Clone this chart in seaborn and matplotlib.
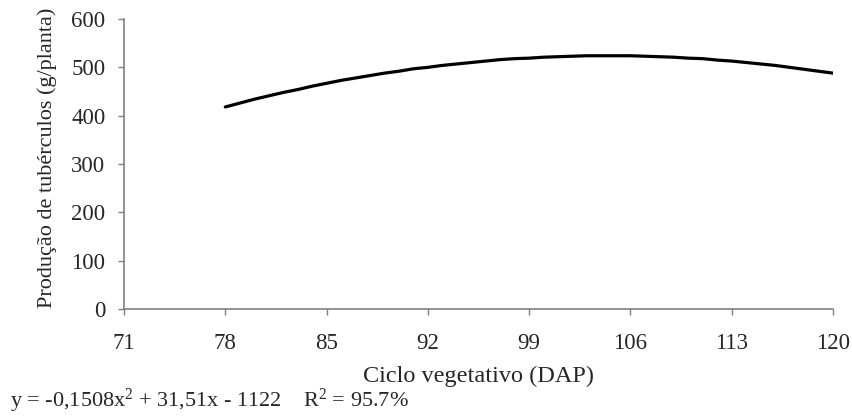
import pandas as pd
import matplotlib.pyplot as plt
import seaborn as sns

# Dados (produção por dia após o plantio)
dap = list(range(78, 121))
producao = [418, 426, 434, 441, 448, 454, 461, 467, 473, 478, 483, 488, 492, 497,
            500, 504, 507, 510, 513, 516, 518, 519, 521, 522, 523, 524, 524, 524,
            524, 523, 522, 521, 519, 518, 515, 513, 510, 507, 504, 500, 496, 492, 488]
xticks = [71, 78, 85, 92, 99, 106, 113, 120]
yticks = [0, 100, 200, 300, 400, 500, 600]

df = pd.DataFrame({"DAP": dap, "Produção": producao})

sns.set_style("ticks")
plt.rcParams["font.family"] = ["Liberation Serif", "DejaVu Serif"]
plt.rcParams["mathtext.fontset"] = "custom"
plt.rcParams["mathtext.rm"] = "Liberation Serif"
plt.rcParams["mathtext.it"] = "Liberation Serif:italic"

fig = plt.figure(figsize=(8.53, 4.16), dpi=100)
ax = fig.add_axes([0.1454, 0.2572, 0.8311, 0.6971])
sns.lineplot(data=df, x="DAP", y="Produção", color="black", linewidth=2.3, ax=ax)

ax.set_xlim(71, 120)
ax.set_ylim(0, 600)
ax.set_xticks(xticks)
ax.set_yticks(yticks)
ax.tick_params(labelsize=16.5, color="#808080", length=4.5, width=1)
ax.tick_params(axis="x", pad=13)
ax.tick_params(axis="y", pad=9)
ax.set_xlabel("Ciclo vegetativo (DAP)", fontsize=17.5, labelpad=8)
ax.set_ylabel("Produção de tubérculos (g/planta)", fontsize=16, labelpad=10)
ax.yaxis.label.set_y(0.52)
sns.despine(ax=ax)
for s in ("left", "bottom"):
    ax.spines[s].set_color("#808080")
    ax.spines[s].set_linewidth(1.2)

fig.text(0.012, 0.021, r"y = -0,1508x$^\mathrm{2}$ + 31,51x - 1122    R$^\mathrm{2}$ = 95.7%",
         fontsize=16, ha="left", va="baseline")

plt.savefig("out.png", dpi=100)
